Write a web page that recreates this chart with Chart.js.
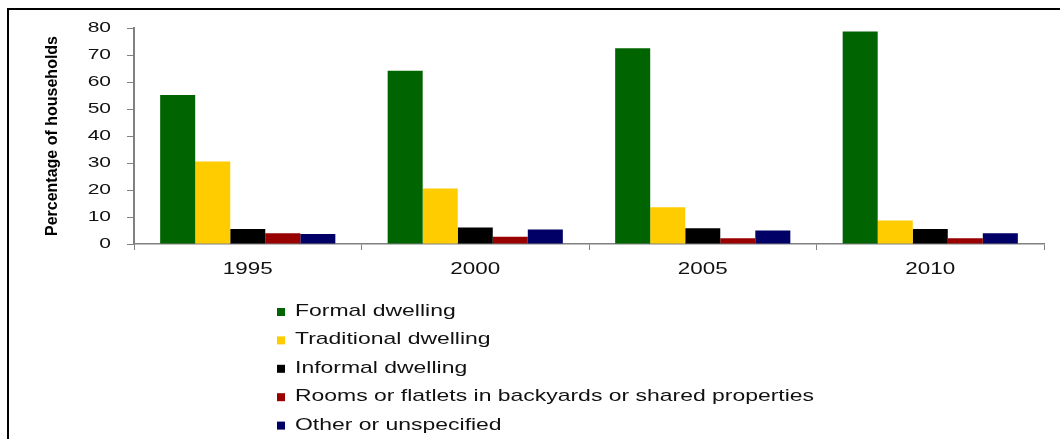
<!DOCTYPE html>
<html lang="en">
<head>
  <meta charset="UTF-8">
  <title>Households by type of dwelling</title>
  <script src="https://cdn.jsdelivr.net/npm/chart.js"></script>
  <style>
    html, body {
      margin: 0;
      padding: 0;
      background: #fff;
      overflow: hidden;
    }
    /* open frame: only the left and top edges fall inside the page */
    .frame {
      position: absolute;
      left: 7px;
      top: 8px;
      width: 1200px;
      height: 600px;
      border-left: 2px solid #000;
      border-top: 2px solid #000;
    }
    .chart-box {
      position: absolute;
      left: 0;
      top: 0;
      width: 1060px;
      height: 439px;
    }
  </style>
</head>
<body>
  <div class="frame"></div>
  <div class="chart-box">
    <canvas id="dwellingChart"></canvas>
  </div>

  <script>
    const years = ['1995', '2000', '2005', '2010'];

    const formalDwelling = [55.2, 64.2, 72.5, 78.7];
    const traditionalDwelling = [30.6, 20.6, 13.6, 8.7];
    const informalDwelling = [5.6, 6.1, 5.8, 5.6];
    const backyardRooms = [4.0, 2.7, 2.1, 2.1];
    const otherDwelling = [3.7, 5.4, 5.0, 4.0];

    const seriesNames = [
      'Formal dwelling',
      'Traditional dwelling',
      'Informal dwelling',
      'Rooms or flatlets in backyards or shared properties',
      'Other or unspecified'
    ];
    const seriesColors = ['#006400', '#ffcc00', '#000000', '#990000', '#000066'];

    const yMin = 0;
    const yMax = 80;
    const yStep = 10;
    const yTitle = 'Percentage of households';

    const FONT = '"Liberation Sans", Arial, sans-serif';
    const TEXT_STRETCH = 1.4;

    Chart.defaults.font.family = FONT;
    Chart.defaults.color = '#111';

    // all labels come out wide and flat, so fillText is stretched sideways
    // around its anchor point; the plain version stays around for the axis title
    const wideText = {
      id: 'wideText',
      beforeInit(chart) {
        const ctx = chart.ctx;
        const plainFill = ctx.fillText.bind(ctx);
        ctx.plainFill = plainFill;
        ctx.fillText = function (text, x, y, maxWidth) {
          ctx.save();
          ctx.translate(x, y);
          ctx.scale(TEXT_STRETCH, 1);
          if (maxWidth === undefined) {
            plainFill(text, 0, 0);
          } else {
            plainFill(text, 0, 0, maxWidth / TEXT_STRETCH);
          }
          ctx.restore();
        };
      }
    };

    // rotated y title and the one-column legend under the axis
    const decorations = {
      id: 'decorations',
      afterDraw(chart) {
        const ctx = chart.ctx;

        ctx.save();
        ctx.translate(57, 136);
        ctx.rotate(-Math.PI / 2);
        ctx.font = 'bold 16px ' + FONT;
        ctx.fillStyle = '#000';
        ctx.textAlign = 'center';
        ctx.textBaseline = 'alphabetic';
        ctx.plainFill(yTitle, 0, 0);
        ctx.restore();

        ctx.save();
        ctx.font = '16.4px ' + FONT;
        ctx.textAlign = 'left';
        ctx.textBaseline = 'middle';
        chart.data.datasets.forEach((ds, i) => {
          const y = 311.5 + i * 28.4;
          ctx.fillStyle = ds.backgroundColor;
          ctx.fillRect(277, y - 3.5, 8, 8);
          ctx.fillStyle = '#111';
          ctx.fillText(ds.label, 295, y);
        });
        ctx.restore();
      }
    };

    const seriesValues = [formalDwelling, traditionalDwelling, informalDwelling, backyardRooms, otherDwelling];

    new Chart(document.getElementById('dwellingChart'), {
      type: 'bar',
      data: {
        labels: years,
        datasets: seriesValues.map((values, i) => ({
          label: seriesNames[i],
          data: values,
          backgroundColor: seriesColors[i],
          borderWidth: 0
        }))
      },
      options: {
        responsive: true,
        maintainAspectRatio: false,
        animation: false,
        layout: {
          padding: { top: 28, right: 16, bottom: 135, left: 0 }
        },
        datasets: {
          bar: { categoryPercentage: 0.77, barPercentage: 1 }
        },
        plugins: {
          legend: { display: false },
          tooltip: { enabled: false }
        },
        scales: {
          x: {
            grid: { offset: true, drawOnChartArea: false, tickLength: 6, color: '#808080' },
            border: { color: '#808080', width: 1.5 },
            ticks: { font: { size: 16 }, padding: 10, maxRotation: 0 },
            afterFit(scale) { scale.height = 60; }
          },
          y: {
            min: yMin,
            max: yMax,
            grid: { drawOnChartArea: false, tickLength: 7, color: '#808080' },
            border: { color: '#808080', width: 2 },
            ticks: { stepSize: yStep, font: { size: 15 }, padding: 16 },
            afterFit(scale) { scale.width = 134; }
          }
        }
      },
      plugins: [wideText, decorations]
    });
  </script>
</body>
</html>
